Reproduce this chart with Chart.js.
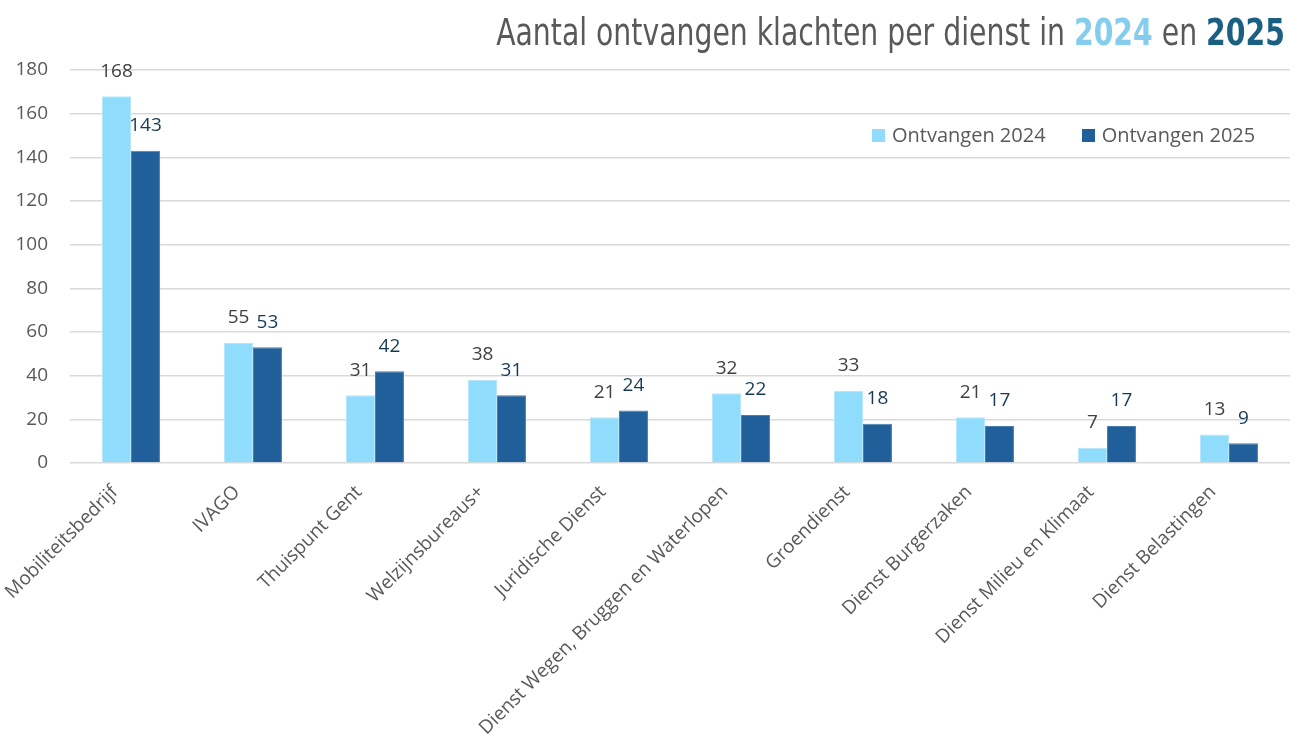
<!DOCTYPE html>
<html>
<head>
<meta charset="utf-8">
<script src="https://cdn.jsdelivr.net/npm/chart.js@4"></script>
<style>
  html, body { margin: 0; padding: 0; background: #fff; }
  #wrap { position: relative; width: 1290px; height: 749px; }
  #title {
    position: absolute; right: 5px; top: 11px;
    font-family: "Liberation Sans Narrow", "DejaVu Sans Condensed", sans-serif;
    font-size: 37px; color: #595959; white-space: nowrap;
    transform: scaleX(0.85); transform-origin: right center;
  }
  #title .y24 { color: #84cdee; font-weight: bold; }
  #title .y25 { color: #1b5f83; font-weight: bold; }
  #legend {
    position: absolute; left: 872px; top: 121px;
    font-family: "Open Sans", "Liberation Sans", sans-serif;
    font-size: 20px; color: #595959; white-space: nowrap;
  }
  #legend span.item { margin-right: 36px; }
  #legend i { display: inline-block; width: 13px; height: 13px; margin-right: 7px; }
</style>
</head>
<body>
<div id="wrap">
  <canvas id="klachtenChart" width="1290" height="749"></canvas>
  <div id="title">Aantal ontvangen klachten per dienst in <span class="y24">2024</span> en <span class="y25">2025</span></div>
  <div id="legend"></div>
</div>
<script>
const diensten = [
  "Mobiliteitsbedrijf",
  "IVAGO",
  "Thuispunt Gent",
  "Welzijnsbureaus+",
  "Juridische Dienst",
  "Dienst Wegen, Bruggen en Waterlopen",
  "Groendienst",
  "Dienst Burgerzaken",
  "Dienst Milieu en Klimaat",
  "Dienst Belastingen",
];
const ontvangen2024 = [168, 55, 31, 38, 21, 32, 33, 21, 7, 13];
const ontvangen2025 = [143, 53, 42, 31, 24, 22, 18, 17, 17, 9];
const yTicks = [0, 20, 40, 60, 80, 100, 120, 140, 160, 180];

const kleur2024 = "#8fdcfd";
const kleur2025 = "#215f9a";
const fontFam = "'Open Sans', 'Liberation Sans', sans-serif";

// data labels above the bars
const barLabels = {
  id: "barLabels",
  afterDatasetsDraw(chart) {
    const ctx = chart.ctx;
    ctx.save();
    ctx.font = "19px " + fontFam;
    ctx.textAlign = "center";
    ctx.textBaseline = "middle";
    chart.data.datasets.forEach((ds, i) => {
      const meta = chart.getDatasetMeta(i);
      ctx.fillStyle = i === 0 ? "#404040" : "#163a56";
      meta.data.forEach((bar, j) => {
        ctx.fillText(String(ds.data[j]), bar.x, bar.y - 25);
      });
    });
    ctx.restore();
  },
};

const ctx = document.getElementById("klachtenChart").getContext("2d");
const chart = new Chart(ctx, {
  type: "bar",
  data: {
    labels: diensten,
    datasets: [
      {
        label: "Ontvangen 2024",
        data: ontvangen2024,
        backgroundColor: kleur2024,
        borderColor: "#b5e6fb",
        borderWidth: 1,
      },
      {
        label: "Ontvangen 2025",
        data: ontvangen2025,
        backgroundColor: kleur2025,
        borderColor: "#4a7fb3",
        borderWidth: 1,
      },
    ],
  },
  options: {
    responsive: false,
    animation: false,
    layout: { padding: { top: 70, right: 0, left: 0, bottom: 0 } },
    datasets: { bar: { categoryPercentage: 0.475, barPercentage: 1 } },
    plugins: {
      legend: { display: false },
      title: { display: false },
      tooltip: { enabled: false },
    },
    scales: {
      x: {
        grid: { display: false },
        border: { display: false },
        ticks: {
          color: "#595959",
          font: { family: fontFam, size: 19 },
          maxRotation: 45,
          minRotation: 45,
          padding: 10,
          labelOffset: -16,
          autoSkip: false,
        },
        afterFit: (scale) => { scale.height = 286; },
      },
      y: {
        min: 0,
        max: 180,
        afterBuildTicks: (scale) => {
          scale.ticks = yTicks.map((v) => ({ value: v }));
        },
        grid: { color: "#d9d9d9", lineWidth: 1.5, drawTicks: false },
        border: { display: false },
        ticks: {
          color: "#595959",
          padding: 22,
          font: { family: fontFam, size: 19 },
        },
        afterFit: (scale) => { scale.width = 70; },
      },
    },
  },
  plugins: [barLabels],
});

// legend
const legend = document.getElementById("legend");
chart.data.datasets.forEach((ds) => {
  legend.innerHTML += `<span class="item"><i style="background:${ds.backgroundColor}"></i>${ds.label}</span>`;
});
</script>
</body>
</html>
